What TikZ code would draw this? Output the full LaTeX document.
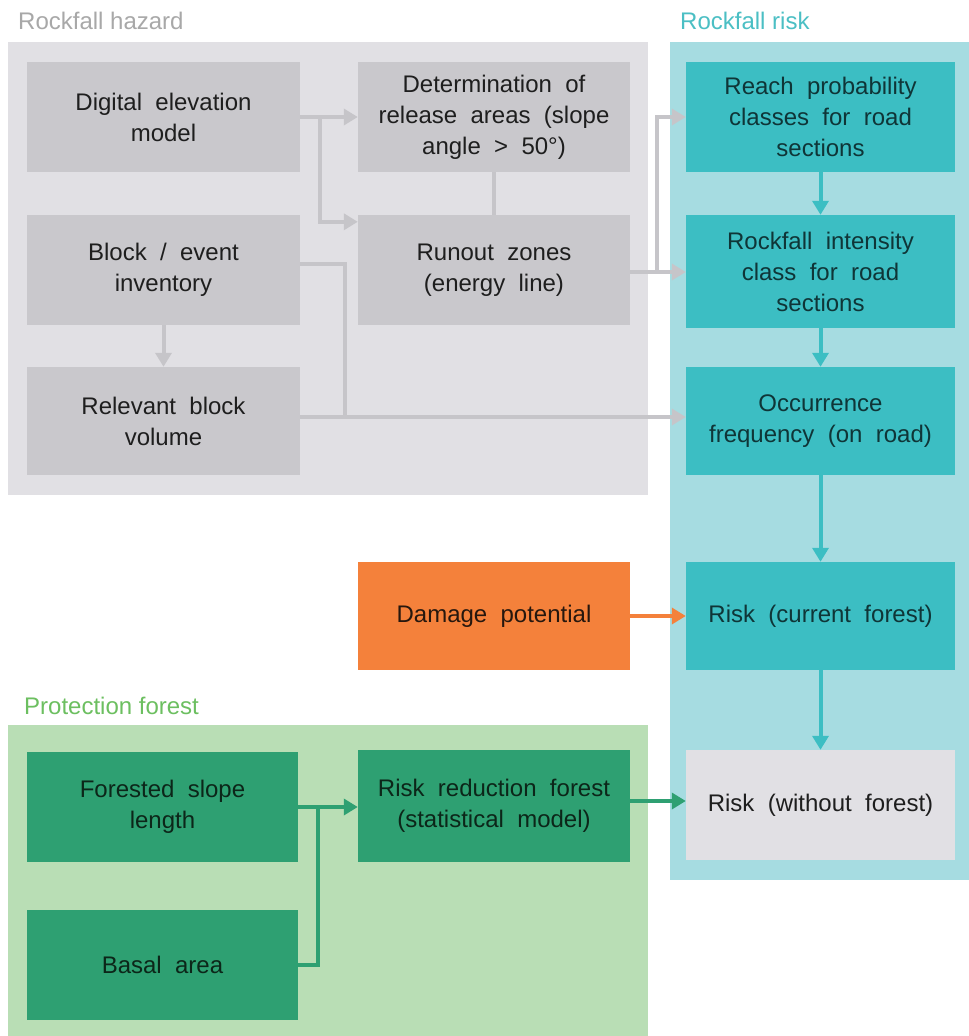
\documentclass[tikz,border=0pt]{standalone}
\usepackage{fontspec}
\setmainfont{Liberation Sans}
\newfontfamily\boxfont{Liberation Sans}[WordSpace=2]
\usetikzlibrary{arrows.meta,calc}
\definecolor{hazbg}{HTML}{E1E0E4}
\definecolor{hazbox}{HTML}{C9C8CC}
\definecolor{garr}{HTML}{C6C5C9}
\definecolor{riskbg}{HTML}{A6DCE1}
\definecolor{teal}{HTML}{3CBEC3}
\definecolor{orng}{HTML}{F4813B}
\definecolor{forbg}{HTML}{B9DEB5}
\definecolor{forbox}{HTML}{2EA072}
\definecolor{labgrey}{HTML}{A8A8A8}
\definecolor{labteal}{HTML}{4BBFC4}
\definecolor{labgreen}{HTML}{6CBF60}
\definecolor{txtgrey}{HTML}{1E1E1E}
\definecolor{txtteal}{HTML}{0F3537}
\definecolor{txtgreen}{HTML}{0C2619}
\definecolor{txtorng}{HTML}{26170E}
\begin{document}
\begin{tikzpicture}[x=1pt,y=-1pt,
  box/.style={minimum width=273pt, minimum height=110pt, inner sep=0pt, align=center,
    font=\boxfont\fontsize{24}{31}\selectfont},
  hbox/.style={box, fill=hazbox, text=txtgrey},
  tbox/.style={box, fill=teal, text=txtteal, minimum width=269pt},
  fbox/.style={box, fill=forbox, text=txtgreen},
  title/.style={anchor=west, inner sep=0pt, font=\fontsize{24}{28}\selectfont},
  garrow/.style={draw=garr, line width=4pt, -{Triangle[length=14pt,width=16pt]}},
  gline/.style={draw=garr, line width=4pt},
  tarrow/.style={draw=teal, line width=4pt, -{Triangle[length=14pt,width=16pt]}},
  oarrow/.style={draw=orng, line width=4pt, -{Triangle[length=14pt,width=16pt]}},
  farrow/.style={draw=forbox, line width=4pt, -{Triangle[length=14pt,width=16pt]}},
  fline/.style={draw=forbox, line width=4pt}]
\useasboundingbox (0,0) rectangle (969,1036);
\fill[white] (0,0) rectangle (969,1036);
% backgrounds
\fill[hazbg] (8,42) rectangle (648,495);
\fill[riskbg] (670,42) rectangle (969,880);
\fill[forbg] (8,725) rectangle (648,1036);
% titles
\node[title, text=labgrey] (thaz) at (18,21) {Rockfall hazard};
\node[title, text=labteal] (trisk) at (680,21) {Rockfall risk};
\node[title, text=labgreen] (tfor) at (24,706) {Protection forest};
% hazard boxes
\node[hbox] (dem) at (163.5,117) {Digital elevation\\model};
\node[hbox, minimum width=272pt] (rel) at (494,117) {Determination of\\release areas (slope\\angle > 50°)};
\node[hbox] (inv) at (163.5,270) {Block / event\\inventory};
\node[hbox, minimum width=272pt] (run) at (494,270) {Runout zones\\(energy line)};
\node[hbox, minimum height=108pt] (vol) at (163.5,421) {Relevant block\\volume};
% risk boxes
\node[tbox] (reach) at (820.5,117) {Reach probability\\classes for road\\sections};
\node[tbox, minimum height=113pt] (inten) at (820.5,271.5) {Rockfall intensity\\class for road\\sections};
\node[tbox, minimum height=108pt] (occ) at (820.5,421) {Occurrence\\frequency (on road)};
\node[tbox, minimum height=108pt] (riskc) at (820.5,616) {Risk (current forest)};
\node[box, fill=hazbg, text=txtgrey, minimum width=269pt] (riskw) at (820.5,805) {Risk (without forest)};
\node[box, fill=orng, text=txtorng, minimum width=272pt, minimum height=108pt] (dmg) at (494,616) {Damage potential};
% forest boxes
\node[fbox, minimum width=271pt] (fsl) at (162.5,807) {Forested slope\\length};
\node[fbox, minimum width=271pt] (bas) at (162.5,965) {Basal area};
\node[fbox, minimum width=272pt, minimum height=112pt] (rrf) at (494,806) {Risk reduction forest\\(statistical model)};
% grey connectors
\coordinate (j1) at (320,117);
\coordinate (j2) at (345,417);
\coordinate (j3) at (657,272);
\draw[garrow] (dem.east) -- (rel.west);
\draw[garrow] (j1) |- ($(run.north west)+(0,7)$);
\draw[gline] (rel.south) -- (run.north);
\draw[gline] ($(inv.east)+(0,-6)$) -| (j2);
\draw[garrow] ($(vol.east)+(0,-4)$) -- ($(occ.west)+(0,-4)$);
\draw[garrow] ($(run.east)+(0,2)$) -- ($(inten.west)+(0,0.5)$);
\draw[garrow] (j3) |- (reach.west);
\draw[garrow] (inv.south) -- (vol.north);
% teal connectors
\draw[tarrow] (reach.south) -- (inten.north);
\draw[tarrow] (inten.south) -- (occ.north);
\draw[tarrow] (occ.south) -- (riskc.north);
\draw[tarrow] (riskc.south) -- (riskw.north);
% orange
\draw[oarrow] (dmg.east) -- (riskc.west);
% green connectors
\coordinate (j4) at (318,807);
\draw[farrow] (fsl.east) -- ($(rrf.west)+(0,1)$);
\draw[fline] (bas.east) -| (j4);
\draw[farrow] ($(rrf.east)+(0,-5)$) -- ($(riskw.west)+(0,-4)$);
\end{tikzpicture}
\end{document}
